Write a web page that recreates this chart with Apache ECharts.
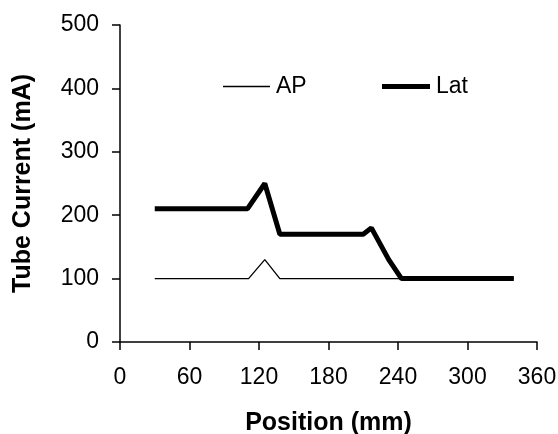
<!DOCTYPE html>
<html>
<head>
<meta charset="utf-8">
<script src="https://cdn.jsdelivr.net/npm/echarts@6/dist/echarts.min.js"></script>
<style>html,body{margin:0;padding:0;background:#fff}#c{width:558px;height:434px}</style>
</head>
<body>
<div id="c"></div>
<script>
var xTicks = [0, 60, 120, 180, 240, 300, 360];
var yTicks = [0, 100, 200, 300, 400, 500];
var apPos = [30, 111, 125, 138, 340];
var apVal = [100, 100, 130, 100, 100];
var latPos = [30, 110, 125, 138, 210, 217, 232, 243, 340];
var latVal = [210, 210, 250, 170, 170, 180, 130, 100, 100];

function pairs(xs, ys) { return xs.map(function (x, i) { return [x, ys[i]]; }); }

var font = 'Liberation Sans, Arial, sans-serif';
var chart = echarts.init(document.getElementById('c'), null, { renderer: 'canvas' });
var axisCommon = {
  axisLine: { show: true, lineStyle: { color: '#000', width: 1.5 } },
  axisTick: { show: true, inside: false, length: 8, lineStyle: { color: '#000', width: 1.5 } },
  splitLine: { show: false },
  axisLabel: { color: '#000', fontFamily: font, fontSize: 23 },
  nameLocation: 'middle',
  nameTextStyle: { color: '#000', fontFamily: font, fontSize: 25, fontWeight: 'bold' }
};
chart.setOption({
  animation: false,
  backgroundColor: '#fff',
  grid: { left: 120, right: 21, top: 25, bottom: 92, containLabel: false, outerBoundsMode: 'none' },
  xAxis: Object.assign({}, axisCommon, {
    type: 'value', min: xTicks[0], max: xTicks[xTicks.length - 1], interval: xTicks[1] - xTicks[0],
    name: 'Position (mm)', nameGap: 69,
    axisLabel: Object.assign({}, axisCommon.axisLabel, { margin: 24 })
  }),
  yAxis: Object.assign({}, axisCommon, {
    type: 'value', min: yTicks[0], max: yTicks[yTicks.length - 1], interval: yTicks[1] - yTicks[0],
    name: 'Tube Current (mA)', nameGap: 84, nameRotate: 90,
    axisLabel: Object.assign({}, axisCommon.axisLabel, { margin: 21 })
  }),
  legend: [
    { data: [{ name: 'AP', icon: 'rect' }], left: 218, top: 70, itemWidth: 47, itemHeight: 1.3, itemGap: 6,
      itemStyle: { color: '#000' },
      textStyle: { color: '#000', fontFamily: font, fontSize: 23, padding: [0, 0, 0, 1] } },
    { data: [{ name: 'Lat', icon: 'rect' }], left: 377, top: 70, itemWidth: 48, itemHeight: 5, itemGap: 6,
      itemStyle: { color: '#000' },
      textStyle: { color: '#000', fontFamily: font, fontSize: 23, padding: [0, 0, 0, 1] } }
  ],
  series: [
    { name: 'AP', type: 'line', data: pairs(apPos, apVal), symbol: 'none',
      lineStyle: { color: '#000', width: 1.3 }, itemStyle: { color: '#000' } },
    { name: 'Lat', type: 'line', data: pairs(latPos, latVal), symbol: 'none',
      lineStyle: { color: '#000', width: 5 }, itemStyle: { color: '#000' } }
  ]
});
</script>
</body>
</html>
